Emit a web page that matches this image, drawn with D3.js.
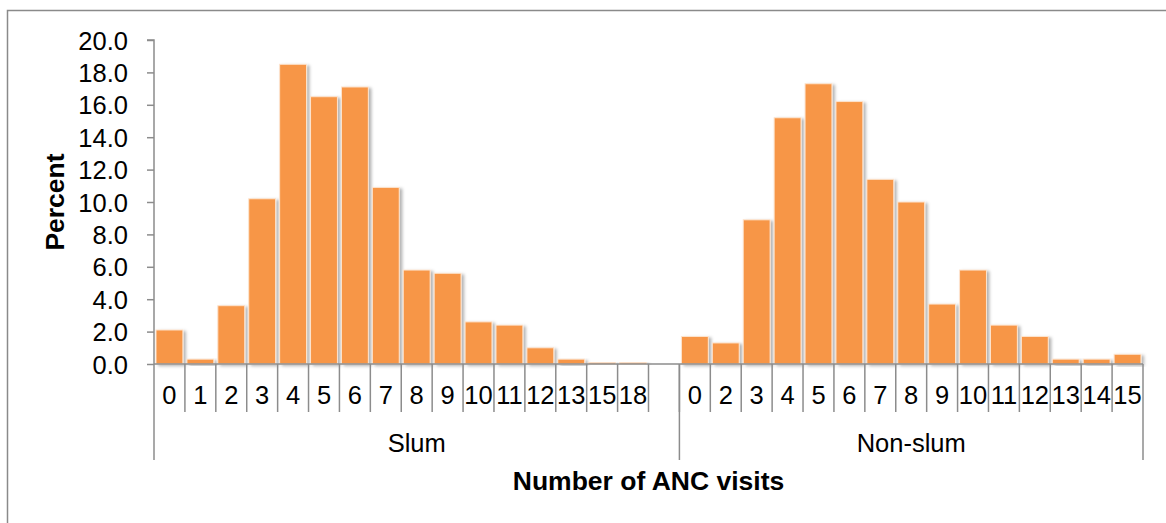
<!DOCTYPE html>
<html>
<head>
<meta charset="utf-8">
<script src="https://cdn.jsdelivr.net/npm/d3@7"></script>
<style>
  html, body { margin: 0; padding: 0; background: #fff; }
  svg { display: block; font-family: "Liberation Sans", Arial, sans-serif; }
</style>
</head>
<body>
<svg id="chart" width="1166" height="523"></svg>
<script>
const groups = ["Slum", "Non-slum"];
const slumCats = ["0","1","2","3","4","5","6","7","8","9","10","11","12","13","15","18"];
const slumValues = [2.1, 0.3, 3.6, 10.2, 18.5, 16.5, 17.1, 10.9, 5.8, 5.6, 2.6, 2.4, 1.0, 0.3, 0.1, 0.1];
const nonSlumCats = ["0","2","3","4","5","6","7","8","9","10","11","12","13","14","15"];
const nonSlumValues = [1.7, 1.3, 8.9, 15.2, 17.3, 16.2, 11.4, 10.0, 3.7, 5.8, 2.4, 1.7, 0.3, 0.3, 0.6];
const yTicks = [0, 2, 4, 6, 8, 10, 12, 14, 16, 18, 20];
const yTitle = "Percent";
const xTitle = "Number of ANC visits";

(function () {
const rows = [];
slumCats.forEach((c, i) => rows.push({ key: "S" + c, label: c, value: slumValues[i], group: 0 }));
rows.push({ key: "blank", label: "", value: null, group: 0 });
nonSlumCats.forEach((c, i) => rows.push({ key: "N" + c, label: c, value: nonSlumValues[i], group: 1 }));

const svg = d3.select("#chart");
const pLeft = 154, pRight = 1143, pTop = 40, pBottom = 364;
const axisColor = "#8c8c8c";
const tickFont = "25.5px", titleFont = "26.5px";

svg.append("rect").attr("x", 7.5).attr("y", 10.5).attr("width", 1200).attr("height", 600)
  .attr("fill", "none").attr("stroke", "#8a8a8a").attr("stroke-width", 1.5);

const x = d3.scaleBand().domain(rows.map(d => d.key)).range([pLeft, pRight]).paddingInner(0.13).paddingOuter(0.065);
const y = d3.scaleLinear().domain([0, 20]).range([pBottom, pTop]);

const defs = svg.append("defs");
const f = defs.append("filter").attr("id", "shadow").attr("x", "-20%").attr("y", "-20%").attr("width", "150%").attr("height", "150%");
f.append("feDropShadow").attr("dx", 2.5).attr("dy", 1.5).attr("stdDeviation", 1.6)
  .attr("flood-color", "#000").attr("flood-opacity", 0.3);

svg.append("g").selectAll("rect").data(rows.filter(d => d.value !== null)).join("rect")
  .attr("x", d => x(d.key))
  .attr("y", d => y(d.value))
  .attr("width", x.bandwidth())
  .attr("height", d => y(0) - y(d.value))
  .attr("fill", "#F79646")
  .attr("stroke", "#fde4cf")
  .attr("stroke-width", 1)
  .attr("filter", "url(#shadow)");

const yAxis = d3.axisLeft(y).tickValues(yTicks).tickFormat(d3.format(".1f")).tickSize(7).tickPadding(19);
const gy = svg.append("g").attr("transform", `translate(${pLeft},0)`).call(yAxis);
gy.select(".domain").attr("stroke", axisColor).attr("stroke-width", 1.5).attr("d", `M-7,${pTop}H0V${pBottom}`);
gy.selectAll(".tick line").attr("stroke", axisColor).attr("stroke-width", 1.5);
gy.selectAll(".tick text").attr("fill", "#000").style("font-size", tickFont).attr("dy", "0.36em");

const step = x.step();
const catLeft = k => x(k) - x.paddingInner() * step / 2;
svg.append("line").attr("x1", pLeft).attr("x2", pRight).attr("y1", pBottom).attr("y2", pBottom)
  .attr("stroke", axisColor).attr("stroke-width", 1.5);

const xAxisG = svg.append("g");
rows.forEach((d, i) => {
  if (i === 0) return;
  xAxisG.append("line").attr("x1", catLeft(d.key)).attr("x2", catLeft(d.key))
    .attr("y1", pBottom).attr("y2", 412).attr("stroke", axisColor).attr("stroke-width", 1.5);
});
xAxisG.selectAll("text.cat").data(rows.filter(d => d.label !== "")).join("text")
  .attr("class", "cat")
  .attr("x", d => x(d.key) + x.bandwidth() / 2)
  .attr("y", 404)
  .attr("text-anchor", "middle")
  .style("font-size", tickFont)
  .attr("fill", "#000")
  .text(d => d.label);

const firstNon = rows.find(d => d.group === 1).key;
[pLeft, catLeft(firstNon), pRight].forEach(px => {
  xAxisG.append("line").attr("x1", px).attr("x2", px).attr("y1", pBottom).attr("y2", 460)
    .attr("stroke", axisColor).attr("stroke-width", 1.5);
});
const groupSpans = [[pLeft, catLeft(firstNon)], [catLeft(firstNon), pRight]];
groups.forEach((g, i) => {
  xAxisG.append("text")
    .attr("x", (groupSpans[i][0] + groupSpans[i][1]) / 2)
    .attr("y", 452)
    .attr("text-anchor", "middle")
    .style("font-size", tickFont)
    .attr("fill", "#000")
    .text(g);
});

svg.append("text").attr("x", (pLeft + pRight) / 2).attr("y", 490)
  .attr("text-anchor", "middle").style("font-size", titleFont).style("font-weight", "bold")
  .text(xTitle);
svg.append("text").attr("transform", `translate(64,${(pTop + pBottom) / 2}) rotate(-90)`)
  .attr("text-anchor", "middle").style("font-size", titleFont).style("font-weight", "bold")
  .text(yTitle);
})();
</script>
</body>
</html>
